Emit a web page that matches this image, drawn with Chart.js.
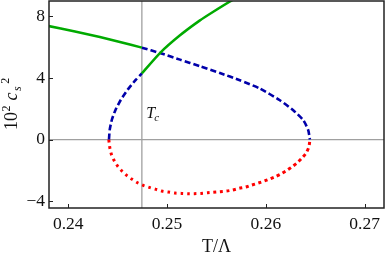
<!DOCTYPE html>
<html><head><meta charset="utf-8">
<script src="https://cdn.jsdelivr.net/npm/chart.js@4/dist/chart.umd.min.js"></script>
<style>html,body{margin:0;padding:0;background:#fff}#wrap{width:386px;height:258px;position:relative}canvas{display:block}</style>
</head><body><div id="wrap"><canvas id="c" width="386" height="258" style="width:386px;height:258px"></canvas></div>
<script>
// ---- data ----
const xTicks = [0.24, 0.25, 0.26, 0.27];
const xTickLabels = ["0.24", "0.25", "0.26", "0.27"];
const yTicks = [-4, 0, 4, 8];
const yTickLabels = ["\u22124", "0", "4", "8"];
const Tc = 0.24745;

const greenLeftT = [0.2378, 0.24068, 0.2432, 0.24523, 0.24745];
const greenLeftV = [7.40, 7.02, 6.66, 6.34, 5.97];

const greenRightT = [0.24745, 0.24928, 0.25131, 0.25333, 0.25468, 0.25637, 0.2575];
const greenRightV = [4.30, 5.62, 6.77, 7.74, 8.30, 8.97, 9.38];

const blueUpperT = [0.24745, 0.24928, 0.25131, 0.25333, 0.25535, 0.25737, 0.2594, 0.26142, 0.26277, 0.26379, 0.26429, 0.26446];
const blueUpperV = [5.97, 5.62, 5.19, 4.76, 4.32, 3.85, 3.31, 2.55, 1.90, 1.26, 0.61, 0];

const blueLowerT = [0.24412, 0.2442, 0.24442, 0.2448, 0.24533, 0.24602, 0.24685, 0.24745];
const blueLowerV = [0, 0.65, 1.30, 1.95, 2.59, 3.24, 3.89, 4.30];

const redT = [0.2441, 0.24422, 0.24439, 0.24466, 0.245, 0.2454, 0.24591, 0.24642, 0.24702, 0.24759, 0.2482, 0.24888, 0.24945, 0.25012, 0.2508, 0.25148, 0.25215, 0.25276, 0.25343, 0.25411, 0.25468, 0.25535, 0.25603, 0.25664, 0.25731, 0.25796, 0.25856, 0.25923, 0.25984, 0.26045, 0.26102, 0.26163, 0.26217, 0.26271, 0.26322, 0.26368, 0.26409, 0.26436, 0.26446];
const redV = [0, -0.58, -1.02, -1.38, -1.73, -2.03, -2.33, -2.57, -2.81, -2.98, -3.11, -3.24, -3.35, -3.41, -3.48, -3.50, -3.52, -3.52, -3.50, -3.46, -3.43, -3.39, -3.35, -3.28, -3.17, -3.09, -2.96, -2.83, -2.70, -2.55, -2.40, -2.20, -1.99, -1.75, -1.49, -1.19, -0.87, -0.48, 0];

const zip = (t, v) => t.map((x, i) => ({x: x, y: v[i]}));

const SERIF = '"Liberation Serif", serif';
const GREEN = 'rgb(0,170,0)';
const BLUE = 'rgb(0,0,170)';
const RED = 'rgb(255,0,0)';

const deco = {
  id: 'deco',
  beforeDatasetsDraw(chart) {
    const {ctx, chartArea: a, scales: {x}} = chart;
    const px = x.getPixelForValue(Tc);
    ctx.save();
    ctx.strokeStyle = 'rgb(160,160,160)';
    ctx.lineWidth = 1.3;
    ctx.beginPath(); ctx.moveTo(px, a.top); ctx.lineTo(px, a.bottom); ctx.stroke();
    ctx.restore();
  },
  afterDraw(chart) {
    const {ctx, chartArea: a, scales: {x, y}} = chart;
    ctx.save();
    // frame
    ctx.strokeStyle = '#222';
    ctx.lineWidth = 1.5;
    ctx.strokeRect(a.left, a.top, a.right - a.left, a.bottom - a.top);
    // inward ticks
    ctx.lineWidth = 1;
    ctx.beginPath();
    xTicks.forEach(v => { const p = Math.round(x.getPixelForValue(v)) + 0.5; ctx.moveTo(p, a.bottom); ctx.lineTo(p, a.bottom - 4); });
    yTicks.forEach(v => { const p = Math.round(y.getPixelForValue(v)) + 0.5; ctx.moveTo(a.left, p); ctx.lineTo(a.left + 4, p); });
    ctx.stroke();
    // Tc label
    ctx.fillStyle = '#111';
    ctx.textBaseline = 'alphabetic';
    ctx.textAlign = 'left';
    const tx = x.getPixelForValue(Tc) + 4.5, ty = y.getPixelForValue(1.39);
    ctx.font = 'italic 16px ' + SERIF;
    ctx.fillText('T', tx, ty);
    const tw = ctx.measureText('T').width;
    ctx.font = 'italic 11px ' + SERIF;
    ctx.fillText('c', tx + tw - 1, ty + 3);
    // x title
    ctx.font = '18px ' + SERIF;
    ctx.textAlign = 'center';
    ctx.fillText('T/\u039B', (a.left + a.right) / 2, 251.5);
    // y title (rotated)
    ctx.translate(16.5, 130);
    ctx.rotate(-Math.PI / 2);
    ctx.textAlign = 'left';
    let u = 0;
    const piece = (txt, font, dy, gap) => {
      ctx.font = font;
      ctx.fillText(txt, u, dy);
      u += ctx.measureText(txt).width + (gap || 0);
    };
    piece('10', '18px ' + SERIF, 0, 0.5);
    piece('2', '12px ' + SERIF, -7, 5);
    piece('c', 'italic 18px ' + SERIF, 0, 1.5);
    piece('s', 'italic 12px ' + SERIF, 4, 2.5);
    piece('2', '12px ' + SERIF, -8, 0);
    ctx.restore();
  }
};

const common = {showLine: true, pointRadius: 0, pointHoverRadius: 0, fill: false, tension: 0.2, clip: 0};

new Chart(document.getElementById('c'), {
  type: 'scatter',
  data: {
    datasets: [
      Object.assign({data: zip(greenLeftT, greenLeftV), borderColor: GREEN, borderWidth: 2.5}, common),
      Object.assign({data: zip(greenRightT, greenRightV), borderColor: GREEN, borderWidth: 2.5}, common),
      Object.assign({data: zip(blueUpperT, blueUpperV), borderColor: BLUE, borderWidth: 2.6, borderDash: [6, 3]}, common),
      Object.assign({data: zip(blueLowerT, blueLowerV), borderColor: BLUE, borderWidth: 2.6, borderDash: [6, 3]}, common),
      Object.assign({data: zip(redT, redV), borderColor: RED, borderWidth: 3, borderDash: [3, 3.6]}, common)
    ]
  },
  options: {
    responsive: false,
    animation: false,
    devicePixelRatio: 1,
    layout: {padding: {top: 1, right: 2, left: 0, bottom: 0}},
    plugins: {legend: {display: false}, tooltip: {enabled: false}},
    events: [],
    scales: {
      x: {
        type: 'linear', min: 0.23805, max: 0.27196,
        afterBuildTicks: s => { s.ticks = xTicks.map(v => ({value: v})); },
        afterFit: s => { s.height = 50; s.paddingLeft = 0; s.paddingRight = 0; s.paddingTop = 0; s.paddingBottom = 0; },
        grid: {display: false, drawTicks: false},
        border: {display: false},
        ticks: {
          padding: 6, color: '#111', maxRotation: 0, autoSkip: false,
          font: {family: SERIF, size: 17.5},
          callback: (v) => { const i = xTicks.findIndex(t => Math.abs(t - v) < 1e-9); return i >= 0 ? xTickLabels[i] : ''; }
        }
      },
      y: {
        type: 'linear', min: -4.45, max: 9.0,
        afterBuildTicks: s => { s.ticks = yTicks.map(v => ({value: v})); },
        afterFit: s => { s.width = 49; s.paddingTop = 0; s.paddingBottom = 0; s.paddingLeft = 0; s.paddingRight = 0; },
        grid: {drawTicks: false, lineWidth: 1.3, color: c => (c.tick && c.tick.value === 0) ? 'rgb(160,160,160)' : 'rgba(0,0,0,0)'},
        border: {display: false},
        ticks: {
          padding: 4, color: '#111', autoSkip: false,
          font: {family: SERIF, size: 17.5},
          callback: (v) => { const i = yTicks.indexOf(v); return i >= 0 ? yTickLabels[i] : ''; }
        }
      }
    }
  },
  plugins: [deco]
});
</script>
</body></html>
